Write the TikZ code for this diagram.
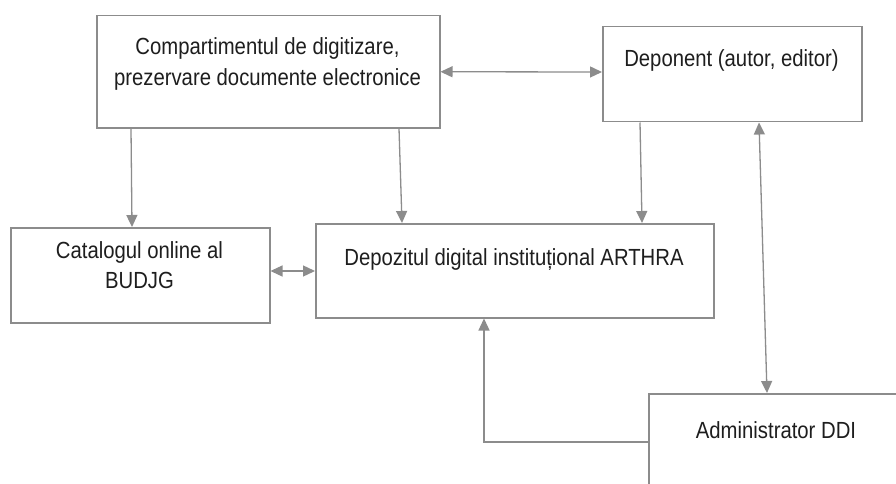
\documentclass[tikz,border=0pt]{standalone}
\usepackage{fontspec}
\usepackage{graphicx}
\setmainfont{Liberation Sans}
\usetikzlibrary{arrows.meta,calc}
\definecolor{lineg}{HTML}{8C8C8C}
\definecolor{txt}{HTML}{1E1E1E}
\newcommand{\tallt}[1]{\scalebox{1}[1.15]{#1}}
\tikzset{
  box/.style={draw=lineg, line width=1.5pt, fill=white, inner sep=0pt, anchor=north west},
  lbl/.style={text=txt, font=\fontsize{20.3}{30}\selectfont, anchor=base, inner sep=0pt},
  conn/.style={draw=lineg, line width=1.3pt, -{Triangle[length=12pt,width=11pt]}},
  bconn/.style={draw=lineg, line width=1.3pt, {Triangle[length=12pt,width=11pt]}-{Triangle[length=12pt,width=11pt]}}
}
\begin{document}
\begin{tikzpicture}[x=1pt,y=-1pt]
\useasboundingbox[fill=white] (0,0) rectangle (896,484);
% boxes
\node[box, minimum width=343pt, minimum height=112pt] (c1) at (96,15) {};
\node[box, minimum width=259pt, minimum height=95pt] (dep) at (602,26) {};
\node[box, minimum width=259pt, minimum height=95pt] (cat) at (10,227) {};
\node[box, minimum width=398pt, minimum height=94pt] (dz) at (315,223) {};
\node[box, minimum width=256pt, minimum height=100pt] (adm) at (648,393) {};
% texts
\node[lbl] (t1a) at (267.5,55) {\tallt{Compartimentul de digitizare,}};
\node[lbl] (t1b) at (267.5,86) {\tallt{prezervare documente electronice}};
\node[lbl] (t2) at (731.5,67) {\tallt{Deponent (autor, editor)}};
\node[lbl] (t3a) at (139.5,258) {\tallt{Catalogul online al}};
\node[lbl] (t3b) at (139.5,288) {\tallt{BUDJG}};
\node[lbl] (t4) at (514,265) {\tallt{Depozitul digital instituțional ARTHRA}};
\node[lbl] (t5) at (776,438) {\tallt{Administrator DDI}};
% helper coordinates
\coordinate (y72) at (0,72);
\coordinate (y271) at (0,271);
\coordinate (y442) at (0,442);
\coordinate (dzb) at ($(dz.south west)+(169,0)$);
% connectors
\draw[bconn] (c1.east) -- (dep.west |- y72);
\draw[conn] ($(c1.south west)+(35,0)$) -- ($(cat.north west)+(122,0)$);
\draw[conn] ($(c1.south west)+(303,0)$) -- ($(dz.north west)+(87,0)$);
\draw[conn] ($(dep.south west)+(38,0)$) -- ($(dz.north west)+(327,0)$);
\draw[bconn] ($(adm.north west)+(119,0)$) -- ($(dep.south west)+(157,0)$);
\draw[bconn] (cat.east |- y271) -- (dz.west |- y271);
\draw[conn] (adm.west |- y442) -- (dzb |- y442) -- (dzb);
\end{tikzpicture}
\end{document}
